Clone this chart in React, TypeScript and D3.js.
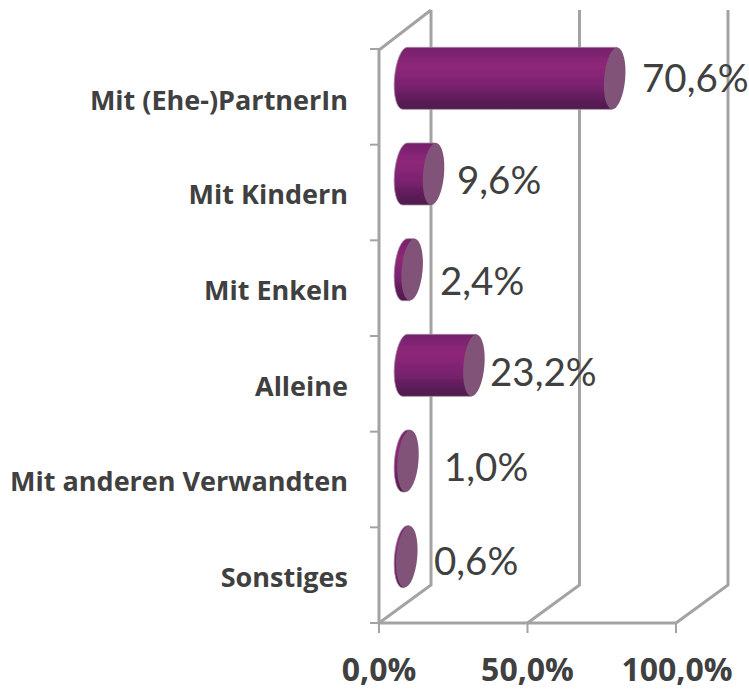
import React from "react";
import * as d3 from "d3";

const categories = ["Mit (Ehe-)PartnerIn", "Mit Kindern", "Mit Enkeln", "Alleine", "Mit anderen Verwandten", "Sonstiges"];
const values = [70.6, 9.6, 2.4, 23.2, 1.0, 0.6];
const valueLabels = ["70,6%", "9,6%", "2,4%", "23,2%", "1,0%", "0,6%"];
const labelX = [642, 457, 440, 490, 444, 434];
const labelY = [92, 194, 295, 386, 481, 575];
const catLabelY = [110, 204, 300, 396, 491, 587];
const xTicks = [0, 50, 100];
const xTickLabels = ["0,0%", "50,0%", "100,0%"];

const W = 749, H = 689;
const x = d3.scaleLinear().domain([0, 100]).range([379, 676]);
const y = d3.scaleBand<number>().domain(d3.range(categories.length)).range([30.5, 604.5]);
const tickY = d3.scaleLinear().domain([0, categories.length]).range([49, 623]);
const dx = 52, dy = 38;
const grey = "#a3a3a3";
const font = "'Open Sans', Lato, sans-serif";

export default function App() {
  const bh = 62;
  const rx = 10.5;
  const skew = 2.5;
  const startX = 405 - x(0);
  return (
    <svg width={W} height={H} style={{ position: "absolute", left: 0, top: 0, background: "#fff" }}>
      <defs>
        <linearGradient id="cyl" x1="0" x2="0" y1="0" y2="1">
          <stop offset="0" stopColor="#74206c" />
          <stop offset="0.3" stopColor="#8f2879" />
          <stop offset="0.6" stopColor="#7c2270" />
          <stop offset="1" stopColor="#4c1a4b" />
        </linearGradient>
        <filter id="soft"><feGaussianBlur stdDeviation="0.5" /></filter>
      </defs>
      <g filter="url(#soft)">
        {xTicks.map((t) => (
          <g key={t} stroke={grey} strokeWidth={3} fill="none">
            <path d={`M${x(t) + dx},10V${623 - dy}L${x(t)},${623}`} />
            <path d={`M${x(t)},623v10`} strokeWidth={2} />
          </g>
        ))}
        <path d={`M${x(0) + dx},10L${x(0)},50V623H${x(100)}`} stroke={grey} strokeWidth={3} fill="none" />
        {d3.range(categories.length + 1).map((i) => (
          <path key={i} d={`M370,${tickY(i)}H${x(0)}`} stroke={grey} strokeWidth={2} />
        ))}
        {values.map((v, i) => {
          const top = y(i)! + (y.bandwidth() - bh) / 2;
          const bot = top + bh;
          const x0 = x(0) + startX;
          const x1 = x(v) + startX;
          const body = `M${x0 + skew},${top}L${x1 + skew},${top}L${x1 - skew},${bot}L${x0 - skew},${bot}A${rx},${bh / 2} 5 0 1 ${x0 + skew},${top}Z`;
          return (
            <g key={i}>
              <path d={body} fill="url(#cyl)" stroke="#a58aa0" strokeWidth={0.8} />
              <ellipse cx={x1} cy={(top + bot) / 2} rx={rx} ry={bh / 2} transform={`rotate(5 ${x1} ${(top + bot) / 2})`} fill="#825279" />
            </g>
          );
        })}
      </g>
      {categories.map((c, i) => (
        <text key={c} x={348} y={catLabelY[i]} textAnchor="end" fontFamily={font} fontWeight={700} fontSize={27} fill="#404040">{c}</text>
      ))}
      {values.map((_, i) => (
        <text key={i} x={labelX[i]} y={labelY[i]} fontFamily="Lato, sans-serif" fontSize={38.5} fill="#404040">{valueLabels[i]}</text>
      ))}
      {xTicks.map((t, i) => (
        <text key={t} x={i === 2 ? x(t) + 1 : x(t)} y={681} textAnchor="middle" fontFamily={font} fontWeight={700} fontSize={32} fill="#404040">{xTickLabels[i]}</text>
      ))}
    </svg>
  );
}
